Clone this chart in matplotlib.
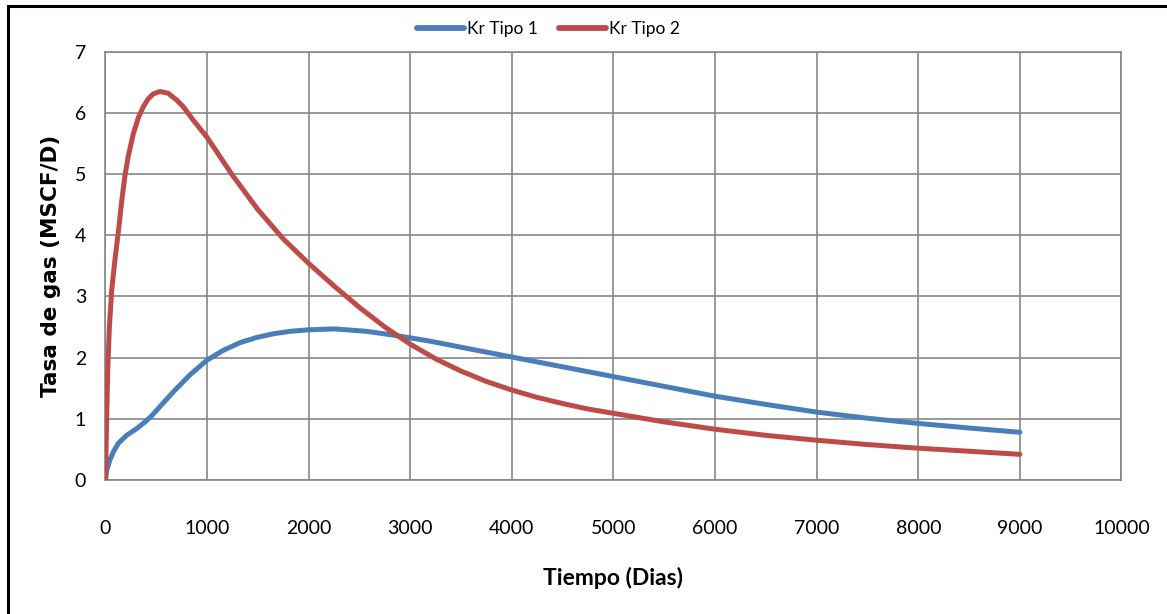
import matplotlib
matplotlib.use("Agg")
import matplotlib.pyplot as plt
from matplotlib.lines import Line2D

# Gas rate vs. time for two relative-permeability cases
t_tipo1 = [0, 12, 44, 77, 126, 208, 307, 389, 455, 536, 667, 832, 1000, 1160,
           1324, 1488, 1652, 1816, 2000, 2250, 2570, 2866, 3193, 3500, 4000,
           4500, 5000, 5500, 6000, 6500, 7000, 7500, 8000, 8500, 9000]
q_tipo1 = [0.0, 0.16, 0.33, 0.46, 0.60, 0.73, 0.84, 0.95, 1.05, 1.20, 1.44,
           1.72, 1.96, 2.12, 2.245, 2.33, 2.39, 2.43, 2.455, 2.47, 2.43, 2.36,
           2.27, 2.17, 2.01, 1.85, 1.69, 1.53, 1.37, 1.235, 1.11, 1.01, 0.925,
           0.85, 0.78]

t_tipo2 = [0, 10, 22, 38, 61, 93, 126, 159, 192, 225, 274, 323, 372, 421, 470,
           536, 618, 700, 766, 864, 1000, 1250, 1500, 1750, 2000, 2250, 2500,
           2750, 3000, 3250, 3500, 3750, 4000, 4250, 4500, 4750, 5000, 5500,
           6000, 6500, 7000, 7500, 8000, 8500, 9000]
q_tipo2 = [0.0, 0.9, 1.8, 2.5, 3.1, 3.6, 4.05, 4.55, 4.98, 5.30, 5.66, 5.92,
           6.10, 6.23, 6.31, 6.35, 6.32, 6.21, 6.10, 5.88, 5.60, 4.98, 4.42,
           3.94, 3.54, 3.17, 2.82, 2.50, 2.22, 1.98, 1.78, 1.61, 1.47, 1.35,
           1.25, 1.16, 1.09, 0.95, 0.83, 0.73, 0.65, 0.58, 0.52, 0.47, 0.42]

series_names = ["Kr Tipo 1", "Kr Tipo 2"]
x_ticks = list(range(0, 10001, 1000))
y_ticks = list(range(0, 8))

sans = ["Lato", "DejaVu Sans"]

fig = plt.figure(figsize=(11.67, 6.14), dpi=100)
ax = fig.add_axes([0.0904, 0.2182, 0.8706, 0.6976])

grid_c = "#878787"
ax.plot(t_tipo1, q_tipo1, color="#4A7EBB", lw=3.6, label=series_names[0],
        solid_capstyle="round", solid_joinstyle="round", zorder=3)
ax.plot(t_tipo2, q_tipo2, color="#BE4B48", lw=3.6, label=series_names[1],
        solid_capstyle="round", solid_joinstyle="round", zorder=3)

ax.set_xlim(0, 10000)
ax.set_ylim(0, 7)
ax.set_xticks(x_ticks)
ax.set_yticks(y_ticks)
ax.grid(True, color=grid_c, lw=1.2)
ax.set_axisbelow(True)
for s in ax.spines.values():
    s.set_color(grid_c)
    s.set_linewidth(1.2)
ax.tick_params(length=0, labelsize=14)
ax.tick_params(axis="x", pad=29)
ax.tick_params(axis="y", pad=14)
for lab in ax.get_xticklabels() + ax.get_yticklabels():
    lab.set_family(sans)

ax.set_xlabel("Tiempo (Dias)", fontsize=16.5, fontweight="bold", family=sans,
              labelpad=21)
ax.set_ylabel("Tasa de gas (MSCF/D)", fontsize=15.5, fontweight="bold",
              family="DejaVu Sans", labelpad=10)

leg = fig.legend(loc="center", bbox_to_anchor=(0.47, 0.953), ncol=2,
                 frameon=False, prop={"family": sans, "size": 12.5},
                 handlelength=2.7, columnspacing=1.2, handletextpad=0.2)
for h in leg.get_lines():
    h.set_linewidth(4.2)

# Outer chart frame (top and left edges)
fig.add_artist(Line2D([0.0065, 0.0065], [0.0, 0.991], color="black", lw=2.2,
                      transform=fig.transFigure))
fig.add_artist(Line2D([0.0065, 1.0], [0.991, 0.991], color="black", lw=2.2,
                      transform=fig.transFigure))

fig.savefig("out.png", dpi=100)
